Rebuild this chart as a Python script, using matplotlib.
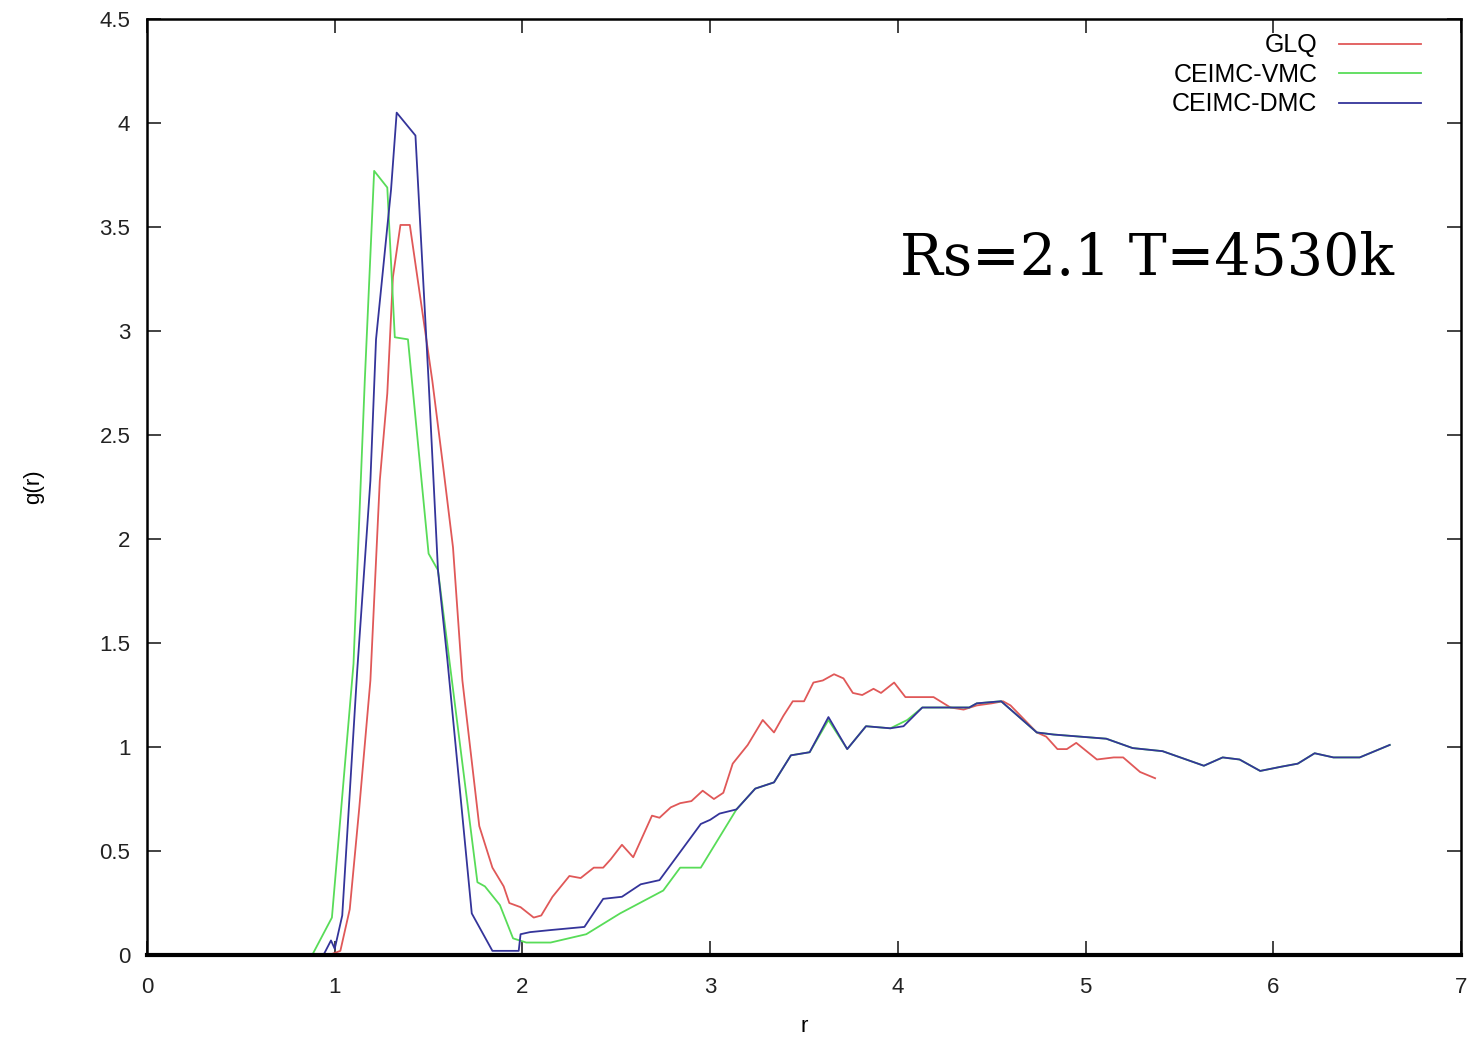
import matplotlib
matplotlib.use("Agg")
import matplotlib.pyplot as plt

# g(r) curves
r_glq = [0.0, 0.97, 1.03, 1.08, 1.13, 1.19, 1.24, 1.28, 1.31, 1.35, 1.40, 1.52, 1.58,
         1.63, 1.68, 1.77, 1.84, 1.90, 1.93, 1.99, 2.06, 2.10, 2.16, 2.25, 2.31, 2.38,
         2.43, 2.47, 2.53, 2.59, 2.69, 2.73, 2.79, 2.84, 2.90, 2.96, 3.02, 3.07, 3.12,
         3.20, 3.28, 3.34, 3.39, 3.44, 3.50, 3.55, 3.60, 3.66, 3.71, 3.76, 3.81, 3.87,
         3.91, 3.98, 4.04, 4.19, 4.28, 4.35, 4.42, 4.50, 4.56, 4.60, 4.74, 4.79, 4.85,
         4.90, 4.95, 5.06, 5.15, 5.20, 5.29, 5.37]
g_glq = [0.0, 0.0, 0.02, 0.22, 0.70, 1.32, 2.28, 2.70, 3.26, 3.51, 3.51, 2.76, 2.33,
         1.96, 1.32, 0.62, 0.42, 0.33, 0.25, 0.23, 0.18, 0.19, 0.28, 0.38, 0.37, 0.42,
         0.42, 0.46, 0.53, 0.47, 0.67, 0.66, 0.71, 0.73, 0.74, 0.79, 0.75, 0.78, 0.92,
         1.01, 1.13, 1.07, 1.15, 1.22, 1.22, 1.31, 1.32, 1.35, 1.33, 1.26, 1.25, 1.28,
         1.26, 1.31, 1.24, 1.24, 1.19, 1.18, 1.20, 1.21, 1.22, 1.20, 1.07, 1.05, 0.99,
         0.99, 1.02, 0.94, 0.95, 0.95, 0.88, 0.85]

r_vmc = [0.0, 0.88, 0.985, 1.10, 1.16, 1.21, 1.28, 1.32, 1.39, 1.50, 1.55, 1.76, 1.80,
         1.88, 1.95, 2.02, 2.15, 2.34, 2.52, 2.75, 2.84, 2.95, 3.14, 3.24, 3.34, 3.43,
         3.53, 3.63, 3.73, 3.83, 3.96, 4.05, 4.13, 4.26, 4.38, 4.42, 4.55, 4.74, 4.83,
         5.11, 5.25, 5.41, 5.63, 5.73, 5.82, 5.93, 6.04, 6.13, 6.22, 6.32, 6.46, 6.62]
g_vmc = [0.0, 0.0, 0.18, 1.40, 2.76, 3.77, 3.69, 2.97, 2.96, 1.93, 1.85, 0.35, 0.33,
         0.24, 0.08, 0.06, 0.06, 0.10, 0.20, 0.31, 0.42, 0.42, 0.70, 0.80, 0.83, 0.96,
         0.975, 1.13, 0.99, 1.10, 1.09, 1.13, 1.19, 1.19, 1.19, 1.21, 1.22, 1.07, 1.06,
         1.04, 0.995, 0.98, 0.91, 0.95, 0.94, 0.885, 0.905, 0.92, 0.97, 0.95, 0.95, 1.01]

r_dmc = [0.0, 0.94, 0.98, 1.00, 1.04, 1.12, 1.19, 1.22, 1.30, 1.33, 1.43, 1.50, 1.55,
         1.60, 1.73, 1.84, 1.95, 1.98, 1.99, 2.04, 2.15, 2.33, 2.43, 2.53, 2.63, 2.73,
         2.95, 3.00, 3.05, 3.14, 3.24, 3.34, 3.43, 3.53, 3.63, 3.73, 3.83, 3.96, 4.03,
         4.13, 4.26, 4.38, 4.42, 4.55, 4.74, 4.83, 5.11, 5.25, 5.41, 5.63, 5.73, 5.82,
         5.93, 6.04, 6.13, 6.22, 6.32, 6.46, 6.62]
g_dmc = [0.0, 0.0, 0.07, 0.03, 0.19, 1.37, 2.28, 2.96, 3.68, 4.05, 3.94, 2.76, 1.85,
         1.42, 0.20, 0.02, 0.02, 0.02, 0.10, 0.11, 0.12, 0.135, 0.27, 0.28, 0.34, 0.36,
         0.63, 0.65, 0.68, 0.70, 0.80, 0.83, 0.96, 0.975, 1.144, 0.99, 1.10, 1.09, 1.10,
         1.19, 1.19, 1.19, 1.21, 1.22, 1.07, 1.06, 1.04, 0.995, 0.98, 0.91, 0.95, 0.94,
         0.885, 0.905, 0.92, 0.97, 0.95, 0.95, 1.01]

labels = ["GLQ", "CEIMC-VMC", "CEIMC-DMC"]
colors = ["#e05858", "#58dc58", "#34349a"]

plt.rcParams["font.family"] = ["Liberation Sans", "DejaVu Sans"]

fig = plt.figure(figsize=(14.73, 10.41), dpi=100)
ax = fig.add_axes([0.0998, 0.0826, 0.8921, 0.8991])

for (r, g), lab, col in zip([(r_glq, g_glq), (r_vmc, g_vmc), (r_dmc, g_dmc)], labels, colors):
    ax.plot(r, g, color=col, lw=1.3, label=lab)

ax.set_xlim(0, 7)
ax.set_ylim(0, 4.5)
ax.set_xticks(range(8))
ax.set_yticks([0, 0.5, 1, 1.5, 2, 2.5, 3, 3.5, 4, 4.5])
ax.set_yticklabels(["0", "0.5", "1", "1.5", "2", "2.5", "3", "3.5", "4", "4.5"])
ax.tick_params(direction="in", length=10, width=1.2, top=True, right=True,
               labelsize=16, colors="#222222")
ax.tick_params(axis="x", pad=16)
ax.tick_params(axis="y", pad=12)
for s in ax.spines.values():
    s.set_linewidth(1.8)
ax.spines["bottom"].set_linewidth(3)

ax.set_xlabel("r", fontsize=16, labelpad=13)
ax.set_ylabel("g(r)", fontsize=16, labelpad=40)

leg = ax.legend(loc="upper right", frameon=False, markerfirst=False, fontsize=18,
                handlelength=3.3, handletextpad=0.85, labelspacing=0.22,
                borderaxespad=0.4, bbox_to_anchor=(0.985, 1.006))
for col in leg._legend_handle_box.get_children():
    col.align = "right"

ax.text(0.573, 0.7265, "Rs=2.1 T=4530k", transform=ax.transAxes,
        family="DejaVu Serif", fontsize=41, ha="left", va="baseline")

fig.savefig("out.png", dpi=100)
